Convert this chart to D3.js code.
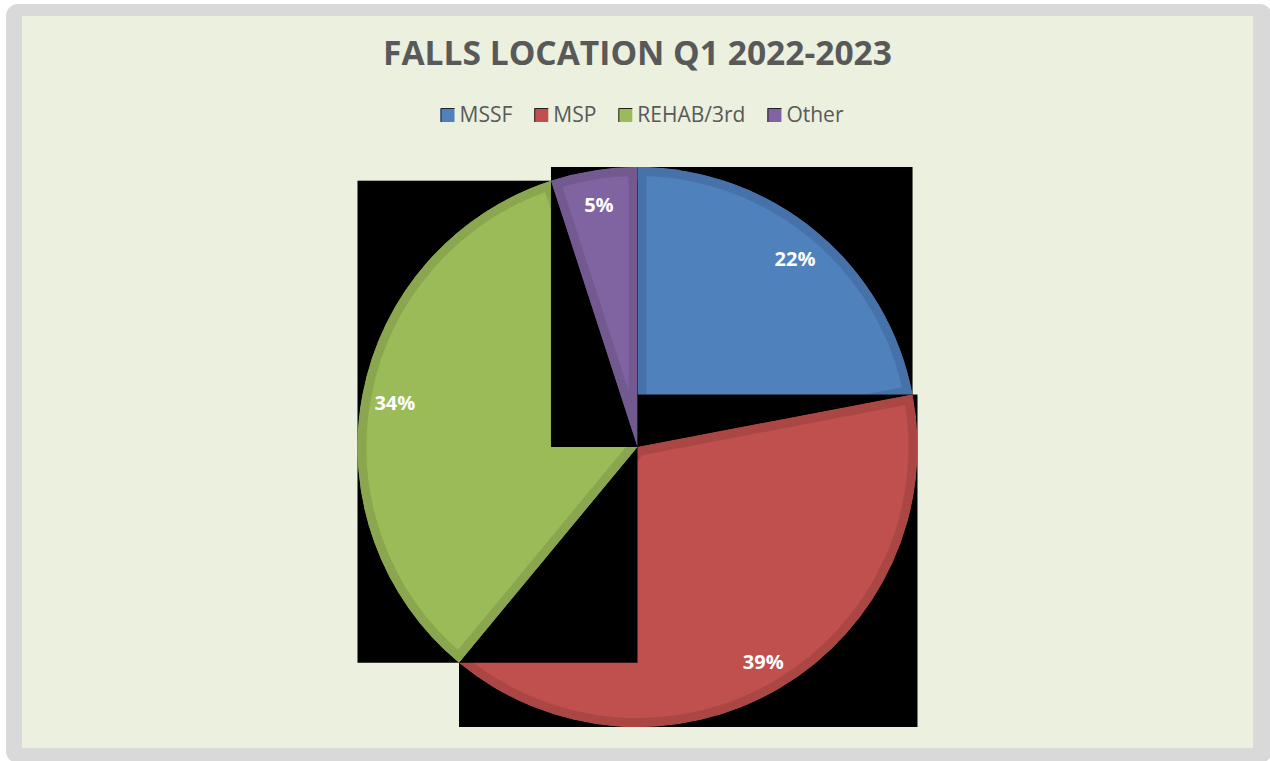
<!DOCTYPE html>
<html>
<head>
<meta charset="utf-8">
<script src="https://cdn.jsdelivr.net/npm/d3@7"></script>
<style>
  html, body { margin: 0; padding: 0; background: #fff; }
  svg { display: block; font-family: "Open Sans", "Noto Sans", sans-serif; }
</style>
</head>
<body>
<div id="chart"></div>
<script>
// data
var categories = ["MSSF", "MSP", "REHAB/3rd", "Other"];
var values = [22, 39, 34, 5];
var title = "FALLS LOCATION Q1 2022-2023";

var fills = ["#4f81bd", "#c0504d", "#9bbb59", "#8064a2"];
var edges = ["#4672a9", "#aa4744", "#8aa64f", "#725a91"];

var W = 1270, H = 761;
var svg = d3.select("#chart").append("svg").attr("width", W).attr("height", H);

// frame + panel
svg.append("rect").attr("width", W).attr("height", H).attr("fill", "#fff");
svg.append("rect").attr("x", 6).attr("y", 4).attr("width", W - 4).attr("height", H - 2)
  .attr("rx", 12).attr("fill", "#d9d9d9");
svg.append("rect").attr("x", 22).attr("y", 16).attr("width", 1231).attr("height", 732)
  .attr("fill", "#ebf0df");

// title
svg.append("text")
  .attr("x", 637.5).attr("y", 65)
  .attr("text-anchor", "middle")
  .attr("font-size", 34).attr("font-weight", 700)
  .attr("fill", "#595959")
  .attr("textLength", 509).attr("lengthAdjust", "spacingAndGlyphs")
  .text(title);

// legend
var color = d3.scaleOrdinal().domain(categories).range(fills);
var legend = svg.append("g").attr("class", "legend");
var items = legend.selectAll("g").data(categories).join("g");
items.append("rect").attr("width", 14).attr("height", 14).attr("y", -14)
  .attr("fill", (d) => color(d));
items.append("path").attr("d", "M0.5,0V-13.5H14").attr("stroke", "#222")
  .attr("fill", "none").attr("stroke-width", 1);
items.append("text").attr("x", 19).attr("y", 0)
  .attr("font-size", 21).attr("fill", "#595959")
  .text((d) => d);

var xPos = 0;
var offsets = [];
items.each(function () {
  var w = this.querySelector("text").getComputedTextLength();
  offsets.push(xPos);
  xPos += 19 + w + 22;
});
var legendW = xPos - 22;
var lx0 = 642 - legendW / 2;
items.attr("transform", (d, i) => `translate(${lx0 + offsets[i]},122)`);

// pie
var cx = 637.5, cy = 447, r = 280;
var pie = d3.pie().sort(null).value((d) => d);
var arcs = pie(values);
var arc = d3.arc().innerRadius(0).outerRadius(r);
var labelArc = d3.arc().innerRadius(247).outerRadius(247);

function pt(a) {
  return [r * Math.sin(a), -r * Math.cos(a)];
}
function sectorBox(d) {
  var pts = [[0, 0], pt(d.startAngle), pt(d.endAngle)];
  [0, Math.PI / 2, Math.PI, 1.5 * Math.PI, 2 * Math.PI].forEach(function (k) {
    if (k > d.startAngle && k < d.endAngle) pts.push(pt(k));
  });
  var xs = pts.map((p) => p[0]), ys = pts.map((p) => p[1]);
  return { x: d3.min(xs), y: d3.min(ys), w: d3.max(xs) - d3.min(xs), h: d3.max(ys) - d3.min(ys) };
}

var defs = svg.append("defs");
defs.selectAll("clipPath").data(arcs).join("clipPath")
  .attr("id", (d, i) => "clip" + i)
  .append("path").attr("d", arc);

var g = svg.append("g").attr("transform", `translate(${cx},${cy})`);
var slices = g.selectAll("g.slice").data(arcs).join("g").attr("class", "slice");

slices.append("rect")
  .each(function (d) {
    var b = sectorBox(d);
    d3.select(this).attr("x", b.x).attr("y", b.y).attr("width", b.w).attr("height", b.h);
  })
  .attr("fill", "#000");

slices.append("path")
  .attr("d", arc)
  .attr("fill", (d, i) => fills[i])
  .attr("stroke", (d, i) => edges[i])
  .attr("stroke-width", 18)
  .attr("clip-path", (d, i) => `url(#clip${i})`);

g.selectAll("text.lbl").data(arcs).join("text")
  .attr("class", "lbl")
  .attr("transform", (d) => `translate(${labelArc.centroid(d)})`)
  .attr("text-anchor", "middle")
  .attr("dy", "0.45em")
  .attr("font-size", 20).attr("font-weight", 700)
  .attr("fill", "#fff")
  .text((d) => d.data + "%");
</script>
</body>
</html>
